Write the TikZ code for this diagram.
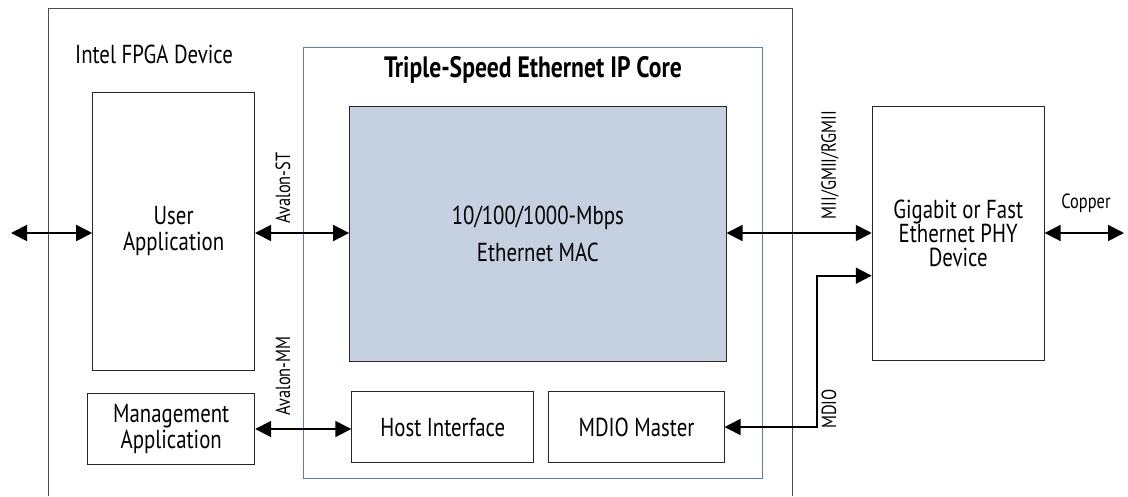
\documentclass[tikz,border=0pt]{standalone}
\usepackage{fontspec}
\setmainfont{PT Sans}[FakeStretch=0.8]
\usetikzlibrary{arrows.meta}
\definecolor{coreblue}{RGB}{84,128,186}
\definecolor{macfill}{RGB}{197,208,225}
\tikzset{
  block/.style={draw=black!85, line width=1pt, inner sep=0pt, align=center, font=\fontsize{26}{26}\selectfont},
  link/.style={line width=1.8pt, arrows={Triangle[length=16pt,width=16pt]-Triangle[length=16pt,width=16pt]}},
  tag/.style={rotate=90, inner sep=0pt, font=\fontsize{20.5}{22}\selectfont}
}
\begin{document}
\begin{tikzpicture}[x=1pt,y=-1pt]
\useasboundingbox (0,0) rectangle (1128,496);
\draw[black!70, line width=1pt] (48.6,496) |- (792.3,8) -- (792.3,496);
\node[anchor=west, inner sep=0pt, font=\fontsize{26}{26}\selectfont] (fpga) at (75,54) {Intel FPGA Device};
\node[draw=coreblue, line width=1pt, minimum width=459.8pt, minimum height=431.3pt, inner sep=0pt] (core) at (532.9,262.65) {};
\node[inner sep=0pt, font=\bfseries\fontsize{29.5}{29.5}\selectfont] (title) at (532.9,70) {Triple-Speed Ethernet IP Core};

\node[block, minimum width=161.8pt, minimum height=277.7pt] (user) at (173.6,231.2) {User\\Application};
\node[block, minimum width=166.9pt, minimum height=70.6pt] (mgmt) at (171.25,429) {Management\\Application};
\node[block, fill=macfill, minimum width=376.4pt, minimum height=255.4pt] (mac) at (537.8,234) {10/100/1000-Mbps\\[11pt]Ethernet MAC};
\node[block, minimum width=182pt, minimum height=70.6pt] (host) at (442.8,427) {Host Interface};
\node[block, minimum width=175.1pt, minimum height=70.6pt] (mdio) at (636.5,427) {MDIO Master};
\node[block, minimum width=171.9pt, minimum height=254pt, font=\fontsize{26}{24}\selectfont] (phy) at (958.2,233) {Gigabit or Fast\\Ethernet PHY\\Device};

\coordinate (ext) at (11,233);
\coordinate (wire) at (1124,233);
\coordinate (bend) at (817.3,275.7);

\draw[link] (ext) -- (ext -| user.west);
\draw[link] (ext -| user.east) -- (ext -| mac.west);
\draw[link] (ext -| mac.east) -- (ext -| phy.west);
\draw[link] (ext -| phy.east) -- (wire);
\draw[link] (mgmt.east) -- (mgmt.east -| host.west);
\draw[link] (mdio.east) -| (bend) -- (bend -| phy.west);

\node[tag] (st) at (283,188) {Avalon-ST};
\node[tag] (mm) at (283,376) {Avalon-MM};
\node[tag] (mii) at (830,165) {MII/GMII/RGMII};
\node[tag] (mdiotag) at (829,409) {MDIO};
\node[inner sep=0pt, font=\fontsize{20.5}{22}\selectfont] (copper) at (1086,203) {Copper};
\end{tikzpicture}
\end{document}
